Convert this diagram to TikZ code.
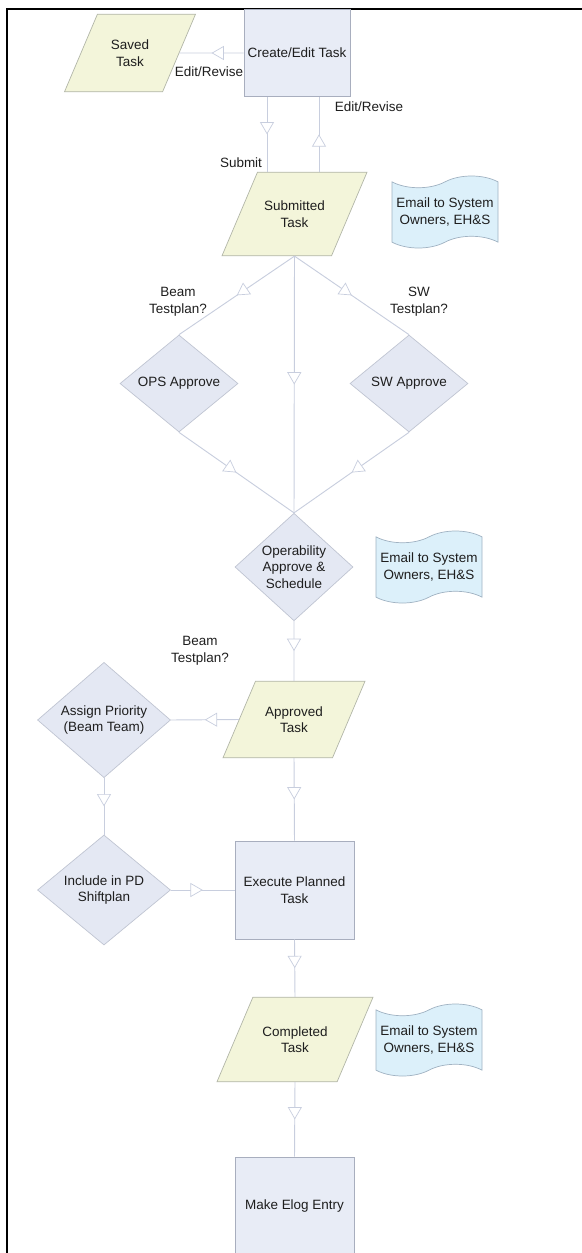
\documentclass[tikz,border=0pt]{standalone}
\usepackage{fontspec}
\setmainfont{Liberation Sans}
\usepackage{tikz}
\usetikzlibrary{arrows.meta,shapes.geometric,shapes.symbols,decorations.markings}
\definecolor{linec}{RGB}{200,206,222}
\definecolor{rectfill}{RGB}{232,236,246}
\definecolor{rectline}{RGB}{168,174,190}
\definecolor{parafill}{RGB}{243,245,218}
\definecolor{paraline}{RGB}{178,182,168}
\definecolor{diafill}{RGB}{228,232,243}
\definecolor{dialine}{RGB}{192,197,210}
\definecolor{mailfill}{RGB}{220,240,250}
\definecolor{mailline}{RGB}{160,178,194}
\definecolor{txt}{RGB}{30,30,30}
\newcommand{\px}{0.03cm}
\newcommand{\mail}[2]{\node[mail] (#1) at (#2) {Email to System\\Owners, EH\&S};}
\newcommand{\flow}[2]{\draw[flow] (#1) -- (#2);}

\begin{document}
\begin{tikzpicture}[x=\px,y=-\px,
  every node/.style={font=\fontsize{11.5}{14.2}\selectfont, text=txt, align=center},
  proc/.style={rectangle, draw=rectline, fill=rectfill, line width=0.6pt, inner sep=0pt},
  data/.style={trapezium, trapezium left angle=67, trapezium right angle=113,
    trapezium stretches body, draw=paraline, fill=parafill, line width=0.6pt,
    inner xsep=0pt, inner ysep=#1*\px},
  decide/.style={diamond, draw=dialine, fill=diafill, line width=0.6pt, inner sep=0pt},
  mail/.style={tape, tape bend top=in and out, tape bend bottom=in and out,
    tape bend height=10pt, draw=mailline, fill=mailfill, line width=0.6pt,
    minimum width=106*\px, minimum height=72*\px, inner sep=0pt},
  lbl/.style={inner sep=0pt},
  flowtip/.tip={Triangle[open, fill=white, length=10.5pt, width=12pt, line width=0.6pt]},
  flow/.style={color=linec, line width=0.8pt, postaction={decorate},
    decoration={markings, mark=at position #1 with {\arrow{flowtip}}}},
  flow/.default=0.5]
  \useasboundingbox (0,0) rectangle (581,1253);
  % frame
  \draw[line width=1.8pt] (7,1260) -- (7,9) -- (590,9);
  % boxes
  \node[proc, minimum width=106*\px, minimum height=87*\px] (create) at (297,53) {Create/Edit Task};
  \node[data=25.5, minimum width=131*\px] (saved) at (130,53) {Saved\\Task};
  \node[data=28.5, minimum width=145*\px] (submitted) at (294.5,214) {Submitted\\Task};
  \mail{mailA}{445,212}
  \node[decide, minimum width=118*\px, minimum height=97*\px] (ops) at (179,383.5) {OPS Approve};
  \node[decide, minimum width=118*\px, minimum height=97*\px] (swa) at (409,383.5) {SW Approve};
  \node[decide, minimum width=118*\px, minimum height=98*\px] (oper) at (294,567) {Operability\\Approve \&\\Schedule};
  \mail{mailB}{429,567}
  \node[data=25, minimum width=142*\px] (approved) at (294,719.5) {Approved\\Task};
  \node[decide, minimum width=133*\px, minimum height=109*\px] (assign) at (104,720) {Assign Priority\\(Beam Team)};
  \node[decide, minimum width=133*\px, minimum height=110*\px] (include) at (104,890) {Include in PD\\Shiftplan};
  \node[proc, minimum width=119*\px, minimum height=98*\px] (execute) at (294.5,890) {Execute Planned\\Task};
  \node[data=29, minimum width=156*\px] (completed) at (295,1039.5) {Completed\\Task};
  \mail{mailC}{429,1040}
  \node[proc, minimum width=119*\px, minimum height=98*\px] (elog) at (294.5,1206) {Make Elog Entry};
  % labels
  \node[lbl] (revA) at (209,72) {Edit/Revise};
  \node[lbl] (submit) at (241,163) {Submit};
  \node[lbl] (revB) at (369,107) {Edit/Revise};
  \node[lbl] (beamA) at (178,302) {Beam\\Testplan?};
  \node[lbl] (swq) at (419,302) {SW\\Testplan?};
  \node[lbl] (beamB) at (200,651) {Beam\\Testplan?};
  % flows
  \flow{create.west}{saved.east}
  \draw[flow] ([shift={(-30,0)}]create.south) -- ([shift={(-30,0)}]create.south |- submitted.north);
  \draw[flow] ([shift={(22,0)}]create.south |- submitted.north) -- ([shift={(22,0)}]create.south);
  \flow{submitted.south}{ops.north}
  \flow{submitted.south}{oper.north}
  \flow{submitted.south}{swa.north}
  \flow{ops.south}{oper.north}
  \flow{swa.south}{oper.north}
  \flow{oper.south}{approved.north}
  \flow{approved.west}{assign.east}
  \flow{assign.south}{include.north}
  \flow{include.east}{execute.west}
  \flow{approved.south}{execute.north}
  \flow{execute.south}{completed.north}
  \flow{completed.south}{elog.north}
\end{tikzpicture}
\end{document}
